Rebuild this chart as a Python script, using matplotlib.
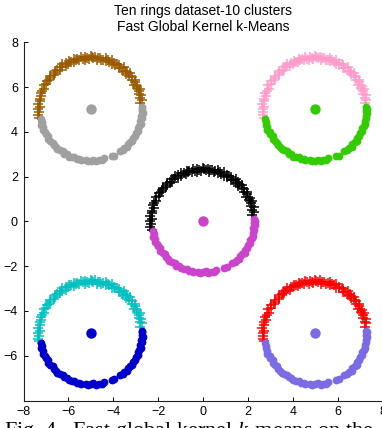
import numpy as np
import matplotlib.pyplot as plt

plt.rcParams['font.family'] = ['Liberation Sans', 'DejaVu Sans']
plt.rcParams['mathtext.fontset'] = 'custom'
plt.rcParams['mathtext.rm'] = 'Liberation Serif'
plt.rcParams['mathtext.it'] = 'Liberation Serif:italic'

# ring centres and the two cluster colours of each ring (upper arc '+', lower arc + centre dots)
centers_x = [-5, 5, 0, -5, 5]
centers_y = [5, 5, 0, -5, -5]
top_colors = ['#9a5a00', '#ff9ccb', '#000000', '#00c0c0', '#ff0000']
bottom_colors = ['#a0a0a0', '#33cc00', '#cc44cc', '#0000cc', '#7b6ce6']

top_deg = [7, 11, 13, 16, 18, 21, 23, 25, 27, 30, 32, 34,
           36, 38, 41, 43, 45, 46, 48, 50, 52, 54, 56, 58,
           60, 62, 63, 65, 67, 69, 71, 73, 74, 76, 78, 80,
           82, 83, 85, 87, 89, 90, 92, 94, 96, 97, 99, 101,
           103, 105, 107, 108, 110, 112, 114, 116, 118, 120, 122, 124,
           126, 128, 130, 133, 135, 137, 140, 142, 145, 147, 150, 153,
           156, 159, 162, 165, 168, 171, 174, 177, 180, 183, 186, 189]
top_r = [2.22, 2.31, 2.26, 2.35, 2.24, 2.29, 2.38, 2.27, 2.33, 2.21, 2.30, 2.36,
         2.25, 2.32, 2.28, 2.37, 2.23, 2.30, 2.34, 2.26, 2.39, 2.29, 2.24, 2.33,
         2.36, 2.27, 2.31, 2.22, 2.38, 2.29, 2.34, 2.25, 2.40, 2.30, 2.27, 2.35,
         2.31, 2.24, 2.37, 2.28, 2.33, 2.39, 2.26, 2.32, 2.36, 2.23, 2.30, 2.38,
         2.27, 2.34, 2.29, 2.37, 2.24, 2.31, 2.36, 2.28, 2.33, 2.25, 2.39, 2.30,
         2.34, 2.26, 2.32, 2.37, 2.28, 2.23, 2.35, 2.30, 2.26, 2.33, 2.29, 2.36,
         2.27, 2.32, 2.35, 2.28, 2.33, 2.30, 2.37, 2.29, 2.34, 2.31, 2.36, 2.32]
bottom_deg = [191, 194, 197, 200, 203, 206, 209, 212, 215, 218, 221, 224,
              227, 230, 233, 236, 239, 242, 245, 248, 251, 254, 257, 259,
              264, 267, 270, 273, 276, 279, 282, 285, 294, 297, 305, 308,
              311, 314, 317, 320, 323, 326, 329, 332, 335, 338, 341, 344,
              347, 350, 353, 356, 358, 361, 363]
bottom_r = [2.28, 2.25, 2.31, 2.27, 2.33, 2.26, 2.30, 2.24, 2.32, 2.28, 2.25, 2.31,
            2.27, 2.33, 2.29, 2.24, 2.30, 2.26, 2.32, 2.28, 2.25, 2.31, 2.27, 2.29,
            2.26, 2.32, 2.28, 2.24, 2.30, 2.27, 2.33, 2.25, 2.29, 2.31, 2.26, 2.30,
            2.28, 2.33, 2.25, 2.29, 2.32, 2.26, 2.30, 2.27, 2.31, 2.25, 2.29, 2.33,
            2.27, 2.30, 2.26, 2.32, 2.28, 2.30, 2.27]

x_ticks = [-8, -6, -4, -2, 0, 2, 4, 6, 8]
y_ticks = [-6, -4, -2, 0, 2, 4, 6, 8]
title = 'Ten rings dataset-10 clusters\nFast Global Kernel k-Means'
caption = 'Fig. 4.  Fast global kernel $k$-means on the'

W, H = 382, 428
fig = plt.figure(figsize=(W / 100, H / 100), dpi=100)
ax = fig.add_axes([23.5 / W, 27.5 / H, 359 / W, 358.2 / H])

ta = np.radians(top_deg)
ba = np.radians(bottom_deg)
tr = np.array(top_r)
br = np.array(bottom_r)
for cx, cy, ct, cb in zip(centers_x, centers_y, top_colors, bottom_colors):
  ax.plot(cx + tr * np.cos(ta), cy + tr * np.sin(ta), '+', color=ct,
          ms=7, mew=1.1, clip_on=False)
  ax.plot(cx + br * np.cos(ba), cy + br * np.sin(ba), 'o', color=cb,
          ms=5.6, mew=0, clip_on=False)
  ax.plot(cx, cy, 'o', color=cb, ms=7.5, mew=0)

ax.set_xlim(-8, 8)
ax.set_ylim(-8, 8)
ax.set_xticks(x_ticks)
ax.set_yticks(y_ticks)
ax.spines['top'].set_visible(False)
ax.spines['right'].set_visible(False)
for s in ('left', 'bottom'):
  ax.spines[s].set_linewidth(0.8)
  ax.spines[s].set_color('#222222')
ax.tick_params(direction='in', length=3, width=0.7, labelsize=9, pad=4)
ax.set_title(title, fontsize=10, pad=8.4, linespacing=1.13)

fig.text(4 / W, -7.6 / H, caption, fontsize=16, family='Liberation Serif',
         va='baseline', ha='left')

fig.savefig('out.png', dpi=100)
